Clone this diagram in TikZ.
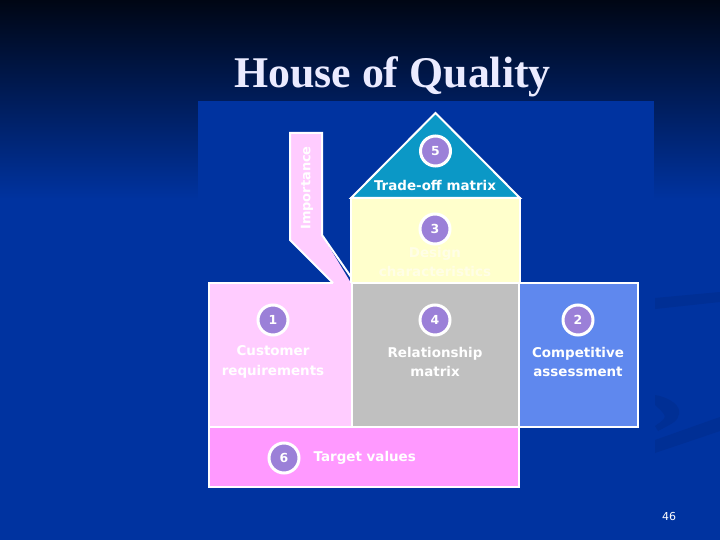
\documentclass[tikz,border=0pt]{standalone}
\usepackage{fontspec}
\setmainfont{Liberation Serif}
\newfontfamily\folie{DejaVu Sans}
\usetikzlibrary{positioning}

\definecolor{nachtblau}{HTML}{000614}
\definecolor{folienblau}{HTML}{0033A0}
\definecolor{wasserzeichen}{HTML}{002F95}
\definecolor{dachblau}{HTML}{0B98C6}
\definecolor{hellgelb}{HTML}{FFFFCC}
\definecolor{hellrosa}{HTML}{FFCCFF}
\definecolor{rosa}{HTML}{FF99FF}
\definecolor{grau}{HTML}{C0C0C0}
\definecolor{mittelblau}{HTML}{5F88EE}
\definecolor{lila}{HTML}{9B80D8}

\tikzset{
    feld/.style={draw=white, line width=2bp},
    nummer/.style={circle, fill=lila, draw=white, line width=3bp,
        minimum size=30bp, inner sep=0pt, text=white,
        font=\folie\bfseries\fontsize{12.5}{12.5}\selectfont},
    etikett/.style={text=white, align=center, inner sep=0pt,
        font=\folie\bfseries\fontsize{13.5}{20}\selectfont},
    titel/.style={anchor=base, inner sep=0pt,
        font=\fontsize{44}{44}\selectfont\bfseries}
}

\begin{document}
\begin{tikzpicture}[x=1bp, y=-1bp]
                \useasboundingbox (0,0) rectangle (720,540);

                % Hintergrund
                \shade[top color=nachtblau, bottom color=folienblau] (0,0) rectangle (720,200);
                \fill[folienblau] (0,200) rectangle (720,540);
                \fill[wasserzeichen] (655,298) -- (720,292) -- (720,302) -- (655,309) -- cycle;
                \fill[wasserzeichen] (655,395) .. controls (672,398) and (681,407) .. (679,414)
                    .. controls (677,421) .. (658,431) -- (655,426)
                    .. controls (668,417) .. (655,405) -- cycle;
                \fill[wasserzeichen] (655,440) -- (720,417) -- (720,431) -- (655,453) -- cycle;
                \fill[folienblau] (198,101) rectangle (654,500);

                % Titel
                \node[titel, text=white!92!blue] (titel) at (392.5,88) {House of Quality};

                % Wichtigkeit
                \fill[hellrosa] (333,283) -- (290,240) -- (290,133) -- (322,133) -- (322,235) -- (351,283) -- cycle;
                \draw[feld] (333,283) -- (290,240) -- (290,133) -- (322,133) -- (322,235) -- (351,277);

                % Dach und Merkmale
                \fill[dachblau, feld] (351,198) -- (435.5,113) -- (520,198) -- cycle;
                \fill[hellgelb, feld] (351,198) rectangle (520,283);

                % Untere Felder
                \fill[hellrosa] (209,283) rectangle (352,427);
                \draw[feld] (333,283) -- (209,283) -- (209,427) -- (352,427) -- (352,283);
                \fill[grau, feld] (352,283) rectangle (519,427);
                \fill[mittelblau, feld] (519,283) rectangle (638,427);
                \fill[rosa, feld] (209,427) rectangle (519,487);

                % Nummern
                \foreach \n/\x/\y in {1/273/320, 2/578/320, 3/435/229, 4/435/320, 5/435.5/151, 6/284/458} {
                    \node[nummer] (n\n) at (\x,\y) {\n};
                }

                % Beschriftungen
                \node[etikett] (kunde) at (273,362) {Customer\\requirements};
                \node[etikett] (beziehung) at (435,362) {Relationship\\matrix};
                \node[etikett] (wettbewerb) at (578,362) {Competitive\\assessment};
                \node[etikett, text=white!90!yellow] (merkmale) at (435,262) {Design\\characteristics};
                \node[etikett] (kompromiss) at (435,185) {Trade-off matrix};
                \node[etikett, right=13bp of n6] (zielwerte) {Target values};
                \node[etikett, rotate=90, font=\folie\bfseries\fontsize{13}{13}\selectfont] (wichtig) at (307,188) {Importance};
                \node[text=white, inner sep=0pt, font=\folie\fontsize{11}{11}\selectfont] (seite) at (669,517) {46};
            \end{tikzpicture}
\end{document}
